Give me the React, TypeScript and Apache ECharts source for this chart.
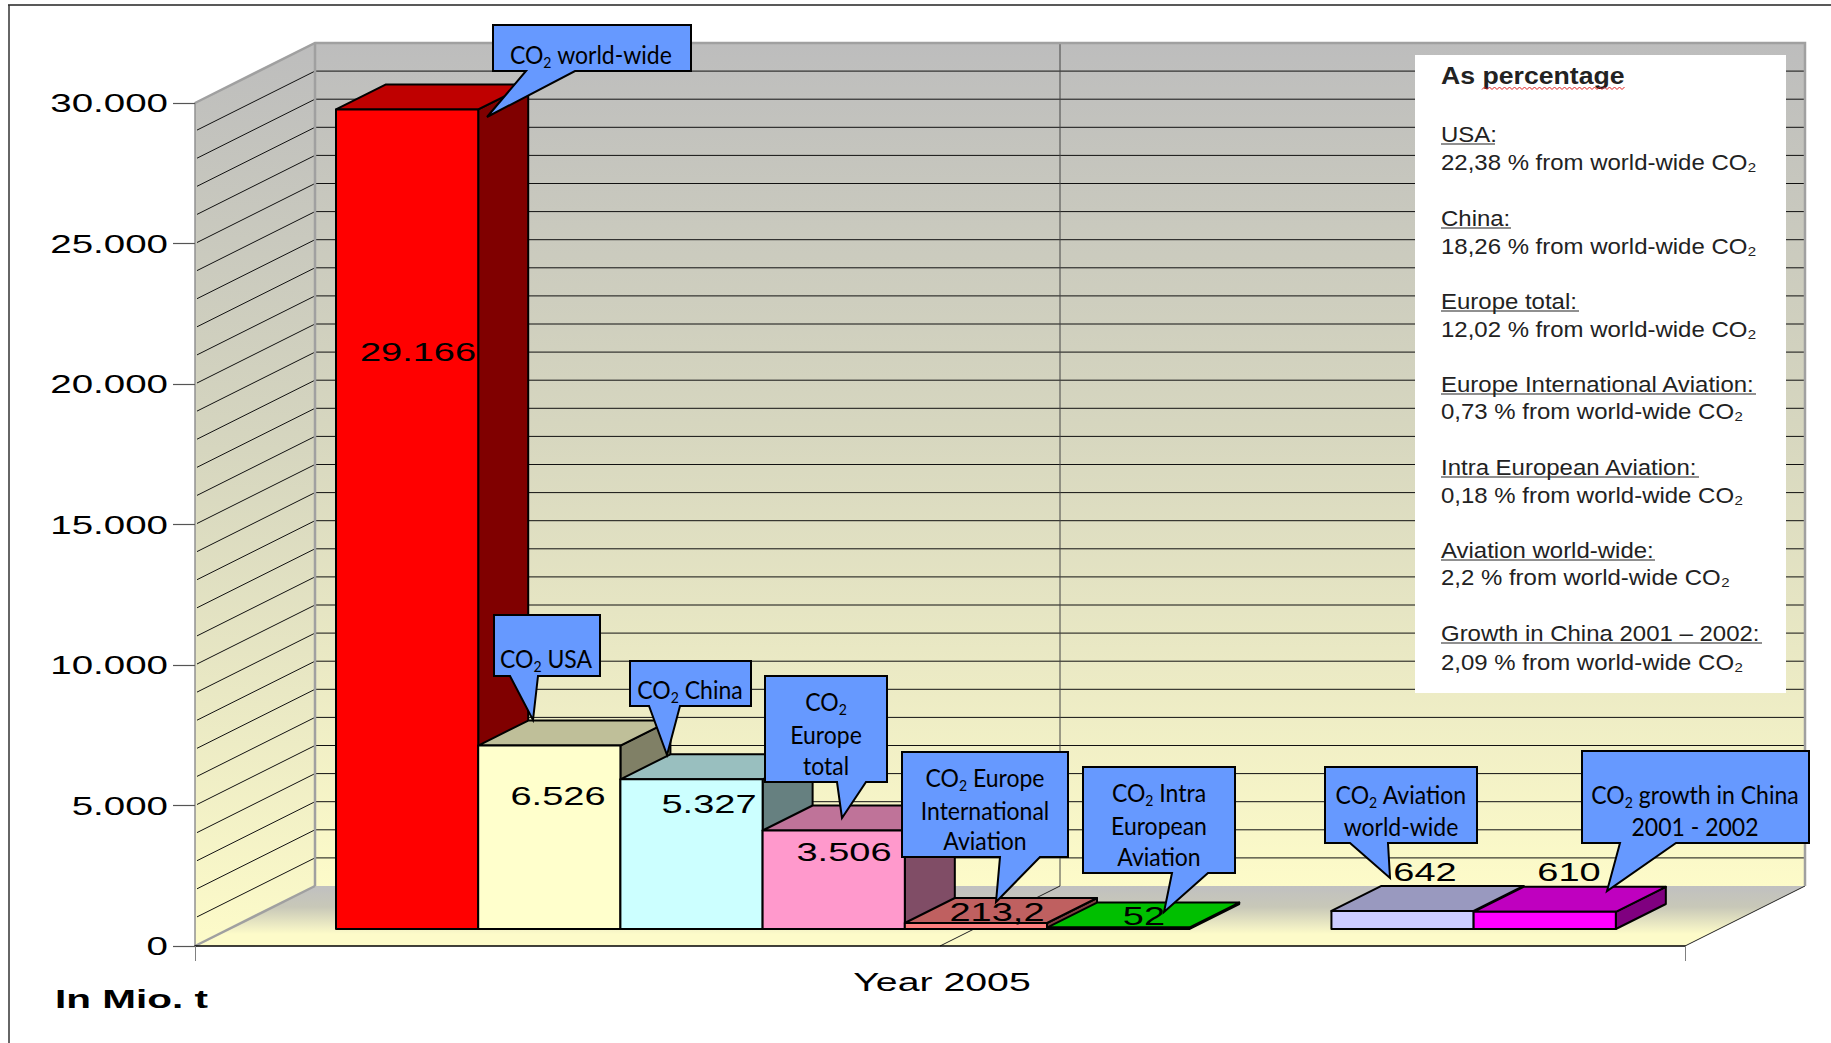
import React, { useEffect, useRef } from "react";
import * as echarts from "echarts";

const slotNames = [
  "CO2 world-wide", "CO2 USA", "CO2 China", "CO2 Europe total",
  "CO2 Europe International Aviation", "CO2 Intra European Aviation", "",
  "CO2 Aviation world-wide", "CO2 growth in China 2001 - 2002",
];
const co2Values: (number | null)[] = [29166, 6526, 5327, 3506, 213.2, 52, null, 642, 610];
const tickLabels = ["0", "5.000", "10.000", "15.000", "20.000", "25.000", "30.000"];
const tickValues = [0, 5000, 10000, 15000, 20000, 25000, 30000];

const frontColors = ["#ff0000", "#ffffcc", "#ccffff", "#ff99cc", "#ff8080", "#00ff00", "", "#ccccff", "#ff00ff"];
const topColors = ["#bf0000", "#bfbf99", "#99bfbf", "#bf7399", "#bf6060", "#00bf00", "", "#9999bf", "#bf00bf"];
const sideColors = ["#800000", "#808066", "#668080", "#804d66", "#804040", "#008000", "", "#666680", "#800080"];
const labelCentres = [[418, 352], [558, 796], [709, 804], [844, 852], [997, 912], [1144, 916], null, [1425, 872], [1569, 872]];

const X_MIN = -0.7525;
const X_MAX = 9.7255;
const WALL_DX = 120, WALL_DY = -60;
const BAR_OFF_X = 34, BAR_OFF_Y = -17;
const BAR_DX = 50, BAR_DY = -25;
const WIDE = 1.52;
const NOTE_WIDE = 1.09;
const CHART_FONT = '"Liberation Sans", Arial, sans-serif';
const CALL_FONT = 'Lato, "Noto Sans", sans-serif';

const formatValue = (v: number) => {
  const [i, d] = String(v).split(".");
  const s = i.replace(/\B(?=(\d{3})+$)/g, ".");
  return d ? s + "," + d : s;
};

const wallGradient = () =>
  new echarts.graphic.LinearGradient(0, 0, 0, 1, [
    { offset: 0, color: "#bdbdbd" },
    { offset: 0.45, color: "#d6d6bf" },
    { offset: 1, color: "#fdfbc9" },
  ]);
const floorGradient = () =>
  new echarts.graphic.LinearGradient(0, 0, 0, 1, [
    { offset: 0, color: "#c0c0c0" },
    { offset: 0.35, color: "#c8c8b8" },
    { offset: 0.8, color: "#fdfbc9" },
    { offset: 1, color: "#fdfbc9" },
  ]);

type Callout = { box: number[]; tail: number[]; cx: number; lines: [string, number][] };
const callouts: Callout[] = [
  { box: [493, 25, 691, 71], tail: [526, 487, 117, 575], cx: 591, lines: [["{n|CO}{s|2}{n| world-wide}", 54]] },
  { box: [494, 615, 600, 676], tail: [510, 533, 720, 538], cx: 546, lines: [["{n|CO}{s|2}{n| USA}", 658]] },
  { box: [630, 661, 751, 706], tail: [649, 667, 755, 680], cx: 690, lines: [["{n|CO}{s|2}{n| China}", 689]] },
  { box: [765, 676, 887, 782], tail: [837, 842, 818, 866], cx: 826, lines: [["{n|CO}{s|2}", 701], ["{n|Europe}", 734], ["{n|total}", 765]] },
  { box: [902, 752, 1068, 857], tail: [1000, 996, 902, 1040], cx: 985, lines: [["{n|CO}{s|2}{n| Europe}", 777], ["{n|International}", 810], ["{n|Aviation}", 840]] },
  { box: [1083, 767, 1235, 873], tail: [1172, 1164, 912, 1208], cx: 1159, lines: [["{n|CO}{s|2}{n| Intra}", 792], ["{n|European}", 825], ["{n|Aviation}", 856]] },
  { box: [1325, 767, 1477, 843], tail: [1350, 1390, 878, 1388], cx: 1401, lines: [["{n|CO}{s|2}{n| Aviation}", 794], ["{n|world-wide}", 826]] },
  { box: [1582, 751, 1809, 843], tail: [1620, 1607, 891, 1676], cx: 1695, lines: [["{n|CO}{s|2}{n| growth in China}", 794], ["{n|2001 - 2002}", 826]] },
];

const noteHeads: [string, number, number][] = [
  ["USA:", 134, 1495], ["China:", 218, 1511], ["Europe total:", 301, 1579],
  ["Europe International Aviation:", 384, 1756], ["Intra European Aviation:", 467, 1699],
  ["Aviation world-wide:", 550, 1655], ["Growth in China 2001 \u2013 2002:", 633, 1762],
];
const noteLines: [string, number][] = [
  ["22,38 % from world-wide CO\u2082", 162], ["18,26 % from world-wide CO\u2082", 246],
  ["12,02 % from world-wide CO\u2082", 329], ["0,73 % from world-wide CO\u2082", 411],
  ["0,18 % from world-wide CO\u2082", 495], ["2,2 % from world-wide CO\u2082", 577],
  ["2,09 % from world-wide CO\u2082", 662],
];

function buildGraphic() {
  const els: any[] = [];
  els.push({ type: "line", z: 1, shape: { x1: 8, y1: 5, x2: 1831, y2: 5 }, style: { stroke: "#222", lineWidth: 1.5 } });
  els.push({ type: "line", z: 1, shape: { x1: 9, y1: 5, x2: 9, y2: 1043 }, style: { stroke: "#333", lineWidth: 1.5 } });

  // Note box
  els.push({ type: "rect", z: 20, shape: { x: 1415, y: 55, width: 371, height: 638 }, style: { fill: "#ffffff" } });
  els.push({ type: "text", z: 21, x: 1441, y: 75, scaleX: 1.11, style: { text: "As percentage", fontFamily: CHART_FONT, fontWeight: "bold", fontSize: 24, fill: "#222", align: "left", verticalAlign: "middle" } });
  const wave: number[][] = [];
  for (let x = 1482, i = 0; x <= 1625; x += 2.5, i++) wave.push([x, i % 2 ? 87 : 89.5]);
  els.push({ type: "polyline", z: 21, shape: { points: wave }, style: { stroke: "#e02020", lineWidth: 1, fill: "none" } });
  noteHeads.forEach(([t, y, end]) => {
    els.push({ type: "text", z: 21, x: 1441, y, scaleX: NOTE_WIDE, style: { text: t, fontFamily: CHART_FONT, fontSize: 22, fill: "#222", align: "left", verticalAlign: "middle" } });
    els.push({ type: "line", z: 21, shape: { x1: 1441, y1: y + 10, x2: end, y2: y + 10 }, style: { stroke: "#222", lineWidth: 1.2 } });
  });
  noteLines.forEach(([t, y]) => {
    els.push({ type: "text", z: 21, x: 1441, y, scaleX: NOTE_WIDE, style: { text: t, fontFamily: CHART_FONT, fontSize: 22, fill: "#222", align: "left", verticalAlign: "middle" } });
  });

  // Callouts
  callouts.forEach((c) => {
    const [l, t, r, b] = c.box;
    const [a, tx, ty, e] = c.tail;
    els.push({
      type: "polygon", z: 30,
      shape: { points: [[l, t], [r, t], [r, b], [e, b], [tx, ty], [a, b], [l, b]] },
      style: { fill: "#6699ff", stroke: "#000", lineWidth: 2, lineJoin: "miter" },
    });
    c.lines.forEach(([text, y]) => {
      els.push({
        type: "text", z: 31, x: c.cx, y, scaleY: 1.08,
        style: {
          text, align: "center", verticalAlign: "middle", fill: "#000",
          rich: {
            n: { fontFamily: CALL_FONT, fontSize: 23, lineHeight: 30, fill: "#000", verticalAlign: "middle" },
            s: { fontFamily: CALL_FONT, fontSize: 14, lineHeight: 18, fill: "#000", verticalAlign: "bottom" },
          },
        },
      });
    });
  });

  // Axis captions
  els.push({ type: "text", z: 21, x: 942, y: 982, scaleX: 1.57, style: { text: "Year 2005", fontFamily: CHART_FONT, fontSize: 25, fill: "#000", align: "center", verticalAlign: "middle" } });
  els.push({ type: "text", z: 21, x: 55, y: 999, scaleX: 1.62, style: { text: "In Mio. t", fontFamily: CHART_FONT, fontWeight: "bold", fontSize: 25, fill: "#000", align: "left", verticalAlign: "middle" } });
  return els;
}

function renderWalls(_: any, api: any) {
  const f = (x: number, v: number) => api.coord([x, v]);
  const bl = f(X_MIN, 0), br = f(X_MAX, 0), tl = f(X_MIN, 30000), tr = f(X_MAX, 30000);
  const back = (p: number[]) => [p[0] + WALL_DX, p[1] + WALL_DY];
  const bBl = back(bl), bBr = back(br), bTl = back(tl), bTr = back(tr);
  const kids: any[] = [];
  const GREY = "#a0a0a0";
  kids.push({ type: "polygon", shape: { points: [bTl, bTr, bBr, bBl] }, style: { fill: wallGradient() } });
  kids.push({ type: "polygon", shape: { points: [tl, bTl, bBl, bl] }, style: { fill: wallGradient() } });
  kids.push({ type: "polygon", shape: { points: [bl, br, bBr, bBl] }, style: { fill: floorGradient() } });
  for (let v = 1000; v < 30000; v += 1000) {
    const a = f(X_MIN, v), c = back(a), e = back(f(X_MAX, v));
    kids.push({ type: "line", shape: { x1: a[0] + 2, y1: a[1] - 1, x2: c[0], y2: c[1] }, style: { stroke: "#111", lineWidth: 1 } });
    kids.push({ type: "line", shape: { x1: c[0], y1: c[1], x2: e[0], y2: e[1] }, style: { stroke: "#111", lineWidth: 1 } });
  }
  const midFront = f((X_MIN + X_MAX) / 2, 0);
  const midBack = back(midFront);
  kids.push({ type: "line", shape: { x1: midBack[0], y1: bTl[1], x2: midBack[0], y2: midBack[1] }, style: { stroke: "#444", lineWidth: 1 } });
  kids.push({ type: "line", shape: { x1: midFront[0], y1: midFront[1], x2: midBack[0], y2: midBack[1] }, style: { stroke: "#222", lineWidth: 1 } });
  kids.push({ type: "line", shape: { x1: br[0], y1: br[1], x2: bBr[0], y2: bBr[1] }, style: { stroke: "#222", lineWidth: 1 } });
  kids.push({ type: "line", shape: { x1: bTl[0], y1: bTl[1], x2: bBl[0], y2: bBl[1] }, style: { stroke: GREY, lineWidth: 2.5 } });
  kids.push({ type: "polyline", shape: { points: [tl, bTl, bTr, bBr] }, style: { stroke: GREY, lineWidth: 2.5, fill: "none" } });
  kids.push({ type: "line", shape: { x1: bl[0], y1: bl[1], x2: bBl[0], y2: bBl[1] }, style: { stroke: GREY, lineWidth: 2.5 } });
  return { type: "group", children: kids };
}

function renderBar(_: any, api: any) {
  const slot = api.value(0) as number, v = api.value(1);
  const a = api.coord([slot, v]), z = api.coord([slot + 1, 0]);
  const x0 = a[0] + BAR_OFF_X, y0 = a[1] + BAR_OFF_Y;
  const x1 = z[0] + BAR_OFF_X, y1 = z[1] + BAR_OFF_Y;
  const stroke = { stroke: "#000", lineWidth: 2, lineJoin: "round" };
  return {
    type: "group",
    children: [
      { type: "polygon", shape: { points: [[x1, y0], [x1 + BAR_DX, y0 + BAR_DY], [x1 + BAR_DX, y1 + BAR_DY], [x1, y1]] }, style: { fill: sideColors[slot], ...stroke } },
      { type: "polygon", shape: { points: [[x0, y0], [x0 + BAR_DX, y0 + BAR_DY], [x1 + BAR_DX, y0 + BAR_DY], [x1, y0]] }, style: { fill: topColors[slot], ...stroke } },
      { type: "rect", shape: { x: x0, y: y0, width: x1 - x0, height: y1 - y0 }, style: { fill: frontColors[slot], ...stroke } },
    ],
  };
}

function renderValueLabel(_: any, api: any) {
  const slot = api.value(0) as number;
  const p = labelCentres[slot] as number[];
  return {
    type: "text", x: p[0], y: p[1], scaleX: WIDE,
    style: { text: formatValue(api.value(1)), fontFamily: CHART_FONT, fontSize: 25, fill: "#000", align: "center", verticalAlign: "middle" },
  };
}

function renderTickLabel(params: any, api: any) {
  const p = api.coord([X_MIN, api.value(1)]);
  return {
    type: "text", x: p[0] - 27, y: p[1] + 1, scaleX: 1.54,
    style: { text: tickLabels[params.dataIndex], fontFamily: CHART_FONT, fontSize: 25, fill: "#000", align: "right", verticalAlign: "middle" },
  };
}

export default function App() {
  const ref = useRef<HTMLDivElement>(null);
  useEffect(() => {
    const chart = echarts.init(ref.current!, undefined, { renderer: "svg" });
    const barData = co2Values
      .map((v, i) => (v == null ? null : { name: slotNames[i], value: [i, v] }))
      .filter(Boolean) as any[];
    chart.setOption({
      animation: false,
      backgroundColor: "#ffffff",
      grid: { left: 195, right: 146, top: 103, bottom: 97, containLabel: false },
      xAxis: {
        type: "value", min: X_MIN, max: X_MAX, z: 5,
        axisLine: { show: true, onZero: false, lineStyle: { color: "#000", width: 1.5 } },
        axisTick: { show: true, customValues: [X_MIN, X_MAX], length: 15, lineStyle: { color: "#808080", width: 1 } },
        axisLabel: { show: false },
        splitLine: { show: false },
      },
      yAxis: {
        type: "value", min: 0, max: 30000, interval: 5000, z: 5,
        axisLine: { show: true, onZero: false, lineStyle: { color: "#909090", width: 1.5 } },
        axisTick: { show: true, length: 22, lineStyle: { color: "#555", width: 1.2 } },
        axisLabel: { show: false },
        splitLine: { show: false },
      },
      tooltip: { show: false },
      series: [
        { type: "custom", name: "walls", z: 1, silent: true, renderItem: renderWalls, data: [[0, 0]] },
        { type: "custom", name: "ticks", z: 6, silent: true, renderItem: renderTickLabel, data: tickValues.map((v) => [0, v]) },
        { type: "custom", name: "CO2", z: 2, silent: true, renderItem: renderBar, data: barData },
        { type: "custom", name: "values", z: 3, silent: true, renderItem: renderValueLabel, data: barData },
      ],
      graphic: { elements: buildGraphic() },
    });
    return () => chart.dispose();
  }, []);
  return <div ref={ref} style={{ position: "absolute", left: 0, top: 0, width: 1831, height: 1043 }} />;
}
